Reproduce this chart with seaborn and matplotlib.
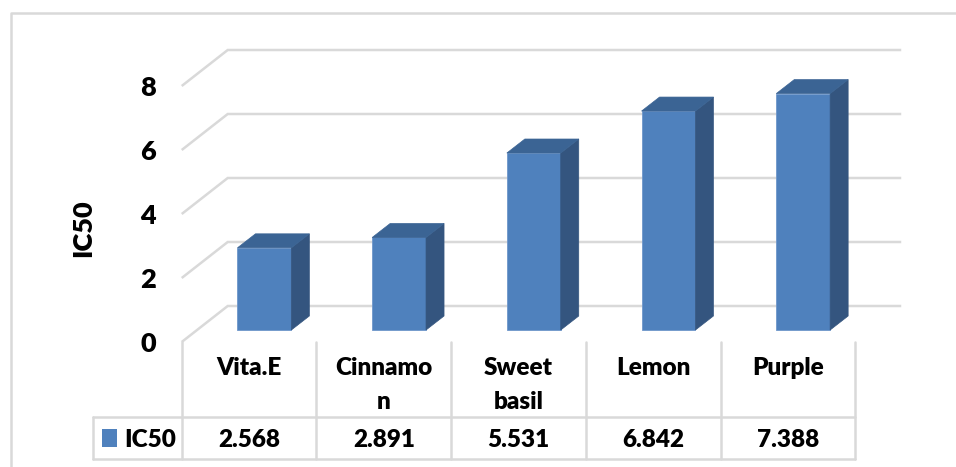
import matplotlib
matplotlib.use("Agg")
import matplotlib.pyplot as plt
from matplotlib.patches import Polygon, Rectangle
import seaborn as sns

# ---- data -------------------------------------------------------------
categories = ["Vita.E", "Cinnamo\nn", "Sweet\nbasil", "Lemon", "Purple"]
ic50 = [2.568, 2.891, 5.531, 6.842, 7.388]
yticks = [0, 2, 4, 6, 8]
series_name = "IC50"

# ---- style ------------------------------------------------------------
sns.set_style("white")
plt.rcParams["font.family"] = ["Lato", "DejaVu Sans"]
WEIGHT = 800

FRONT = "#4F81BD"
SIDE = "#34557F"
TOP = "#3B6494"
EDGE = "#6F97CB"
GRID = "#D9D9D9"

W, H = 956, 467
fig = plt.figure(figsize=(W / 100, H / 100), dpi=100)
ax = fig.add_axes([0, 0, 1, 1])

# one category = SX px, one value unit = SY px; origin at the bars' front plane
SX, SY = 134.7, 32.0
X0, Y0 = 264.4, 330.0


def px_x(p):
    return (p - X0) / SX


def px_y(p):
    return (Y0 - p) / SY


# floor depth (front edge -> back wall) and bar depth, in data units
DX, DY = 46 / SX, 36 / SY
BX, BY = 18 / SX, 14 / SY
n = len(categories)
f_dx, f_dy = -DX / 3, -DY / 3          # front plane relative to bars
b_dx, b_dy = 2 * DX / 3, 2 * DY / 3    # back wall relative to bars

# ---- gridlines: left-wall slant + back-wall horizontal ----------------
for t in yticks:
    ax.plot([-0.5 + f_dx, -0.5 + b_dx, n - 0.5 + b_dx],
            [t + f_dy, t + b_dy, t + b_dy],
            color=GRID, lw=1.8, zorder=1, solid_joinstyle="miter",
            solid_capstyle="butt")

# ---- bars ---------------------------------------------------------------
HW = 0.2
sns.barplot(x=categories, y=ic50, width=2 * HW, color=FRONT, saturation=1,
            edgecolor=EDGE, linewidth=0.6, ax=ax, zorder=3)

for i, v in enumerate(ic50):
    side = [(i + HW, 0), (i + HW + BX, BY), (i + HW + BX, v + BY), (i + HW, v)]
    top = [(i - HW, v), (i - HW + BX, v + BY), (i + HW + BX, v + BY), (i + HW, v)]
    ax.add_patch(Polygon(side, closed=True, facecolor=SIDE, edgecolor=SIDE,
                         lw=0.5, zorder=3))
    ax.add_patch(Polygon(top, closed=True, facecolor=TOP, edgecolor=TOP,
                         lw=0.5, zorder=3))

# ---- value axis labels ------------------------------------------------
for t in yticks:
    ax.text(px_x(156), t + f_dy - 10 / SY, f"{t}", ha="right", va="baseline",
            fontsize=19.5, fontweight=WEIGHT, color="black")

ax.text(px_x(83), px_y(228), series_name, rotation=90, ha="center",
        va="center", fontsize=19.5, fontweight=WEIGHT, color="black")

# ---- data table -------------------------------------------------------
y_top = f_dy
y_row = px_y(417)
y_bot = px_y(459)
x_leg = px_x(93)
x_end = n - 0.5 + f_dx
for k in range(n + 1):
    ax.plot([k - 0.5 + f_dx] * 2, [y_top, y_bot], color=GRID, lw=1.8, zorder=1)
ax.plot([x_leg, x_end], [y_row, y_row], color=GRID, lw=1.8, zorder=1)
ax.plot([x_leg, x_end], [y_bot, y_bot], color=GRID, lw=1.8, zorder=1)
ax.plot([x_leg, x_leg], [y_row, y_bot], color=GRID, lw=1.8, zorder=1)

for i, (c, v) in enumerate(zip(categories, ic50)):
    ax.text(i + f_dx, px_y(357), c, ha="center", va="top", fontsize=17.5,
            fontweight=WEIGHT, linespacing=1.65, color="black")
    ax.text(i + f_dx, px_y(447), f"{v:.3f}", ha="center", va="baseline",
            fontsize=17.5, fontweight=WEIGHT, color="black")

ax.add_patch(Rectangle((px_x(102), px_y(447)), 15 / SX, 18 / SY,
                       facecolor=FRONT, edgecolor="none", zorder=3))
ax.text(px_x(124), px_y(447), series_name, ha="left", va="baseline",
        fontsize=17.5, fontweight=WEIGHT, color="black")

# ---- chart area border ------------------------------------------------
ax.plot([px_x(11), px_x(11), px_x(W + 5)], [px_y(H + 5), px_y(13), px_y(13)],
        color=GRID, lw=1.8, zorder=1, clip_on=False)

ax.set_xlim(px_x(0), px_x(W))
ax.set_ylim(px_y(H), px_y(0))
ax.set_axis_off()

fig.savefig("out.png", dpi=100)
